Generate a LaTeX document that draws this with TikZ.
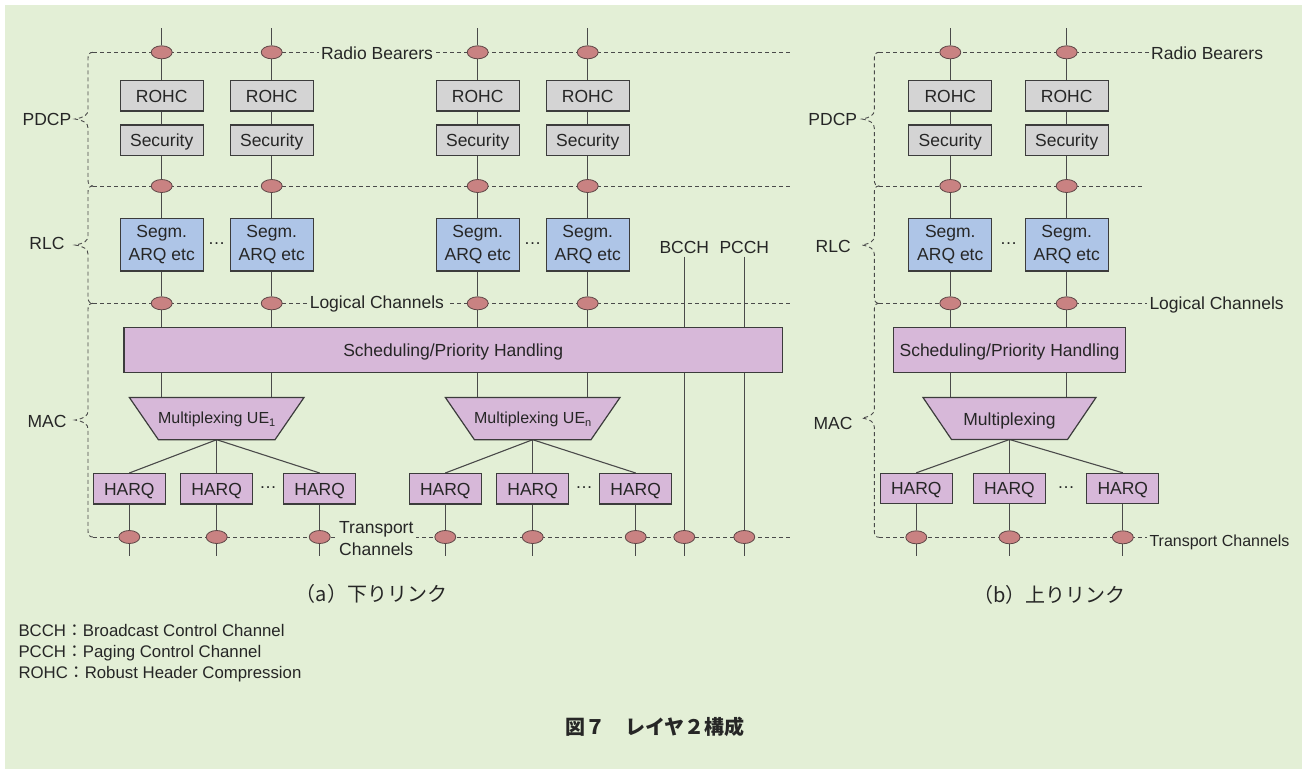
\documentclass[tikz,border=0pt]{standalone}
\usepackage{fontspec}
\setmainfont{Liberation Sans}
\newfontfamily\cjk{Noto Sans CJK JP}
\usetikzlibrary{shapes.geometric}
\definecolor{bgc}{HTML}{E3EFD6}
\definecolor{grayc}{HTML}{D4D4D4}
\definecolor{bluec}{HTML}{AEC5E7}
\definecolor{purc}{HTML}{D7B8D9}
\definecolor{sapc}{HTML}{C98282}
\definecolor{sapb}{HTML}{5E4646}
\definecolor{bordc}{HTML}{3C3C3C}
\definecolor{linec}{HTML}{4A4A4A}
\definecolor{txtc}{HTML}{262626}
\pgfdeclarelayer{bgl}
\pgfdeclarelayer{lnl}
\pgfsetlayers{bgl,lnl,main}
\newcommand\mybrace[5]{%
  \draw[dline] (#1+5,#2) .. controls (#1+1.5,#2) and (#1,#2+2) .. (#1,#2+6)
    -- (#1,#3-9) .. controls (#1,#3-4) and (#1-4,#3-1.5) .. (#5,#3)
    .. controls (#1-4,#3+1.5) and (#1,#3+4) .. (#1,#3+9)
    -- (#1,#4-6) .. controls (#1,#4-2) and (#1+1.5,#4) .. (#1+5,#4);}
\begin{document}
\begin{tikzpicture}[x=1pt,y=-1pt,
  txt/.style={text=txtc,font=\fontsize{17.5}{22.5}\selectfont},
  boxb/.style={txt,draw=bordc,line width=1.2pt,inner sep=0pt,minimum width=83pt},
  gbox/.style={boxb,fill=grayc,minimum height=30.3pt,text height=12.6pt,text depth=0pt},
  bbox/.style={boxb,fill=bluec,minimum height=52.7pt,align=center},
  pbox/.style={boxb,fill=purc,text height=12.6pt,text depth=0pt},
  harq/.style={pbox,minimum width=72pt,minimum height=30.4pt},
  sap/.style={ellipse,draw=sapb,fill=sapc,line width=0.8pt,minimum width=21pt,minimum height=13pt,inner sep=0pt},
  conn/.style={draw=linec,line width=1.1pt},
  dline/.style={draw=linec,line width=0.9pt,dash pattern=on 4pt off 3pt},
  lbl/.style={txt,fill=bgc,inner sep=2.5pt},
  pshape/.style={draw=bordc,line width=1.2pt,fill=purc,line join=miter},
  dots/.style={txt,inner sep=0pt}
]
\useasboundingbox (0,0) rectangle (1307,769);
\begin{pgfonlayer}{bgl}
  \fill[bgc] (5,5) rectangle (1302,769);
\end{pgfonlayer}

% ================= (a) downlink =================
\foreach \n/\x in {1/161.7,2/271.7,3/477.7,4/587.7}{
  \coordinate (at\n) at (\x,28);
  \node[sap] (arb\n) at (\x,52.3) {};
  \node[gbox] (arohc\n) at (\x,95.9) {ROHC};
  \node[gbox] (asec\n) at (\x,140.2) {Security};
  \node[sap] (apr\n) at (\x,186) {};
  \node[bbox] (aseg\n) at (\x,244.7) {Segm.\\ARQ etc};
  \node[sap] (alc\n) at (\x,303.3) {};
  \coordinate (amt\n) at (\x,397.5);
}
\node[dots] (adot1) at (216.7,243.3) {…};
\node[dots] (adot2) at (532.7,243.3) {…};

\node[pbox,minimum width=658.3pt,minimum height=45.4pt] (asch) at (453.2,350) {Scheduling/Priority Handling};

\draw[pshape] (129.4,397.5) -- (304,397.5) -- (275,439.7) -- (158.4,439.7) -- cycle;
\node[txt,font=\fontsize{16}{18}\selectfont,anchor=base] (amux1) at (216.7,423.5) {Multiplexing UE\raisebox{-2.5pt}{\fontsize{11}{11}\selectfont 1}};
\coordinate (amb1) at (216.7,439.7);
\draw[pshape] (445.4,397.5) -- (620,397.5) -- (591,439.7) -- (474.4,439.7) -- cycle;
\node[txt,font=\fontsize{16}{18}\selectfont,anchor=base] (amux2) at (532.7,423.5) {Multiplexing UE\raisebox{-2.5pt}{\fontsize{11}{11}\selectfont n}};
\coordinate (amb2) at (532.7,439.7);

\foreach \n/\x in {11/129.3,12/216.7,13/319.7,21/445.3,22/532.7,23/635.7}{
  \node[harq] (ah\n) at (\x,488.8) {HARQ};
  \node[sap] (atc\n) at (\x,537) {};
  \coordinate (ab\n) at (\x,556);
}
\node[dots] (adot3) at (268,488) {…};
\node[dots] (adot4) at (584,488) {…};

\node[txt,anchor=base] (bcch) at (684.3,253) {BCCH};
\node[sap] (bctc) at (684.3,537) {};
\coordinate (bcb) at (684.3,556);
\node[txt,anchor=base] (pcch) at (744.3,253) {PCCH};
\node[sap] (pctc) at (744.3,537) {};
\coordinate (pcb) at (744.3,556);

\node[lbl,anchor=base] (arbl) at (377,59.3) {Radio Bearers};
\node[lbl,anchor=base] (alcl) at (376.9,308.5) {Logical Channels};
\node[lbl,anchor=west,align=left,font=\fontsize{17.5}{21.7}\selectfont] (atcl) at (336.5,538.9) {Transport\\Channels};

\node[txt,anchor=base] (apdcp) at (47,125.3) {PDCP};
\node[txt,anchor=base] (arlc) at (47,249.6) {RLC};
\node[txt,anchor=base] (amac) at (47,427.6) {MAC};

\coordinate (aRBl) at (93,52.3);   \coordinate (aRBr) at (791,52.3);
\coordinate (aPRl) at (93,186);    \coordinate (aPRr) at (791,186);
\coordinate (aLCl) at (93,303.3);  \coordinate (aLCr) at (791,303.3);
\coordinate (aTCl) at (93,537);    \coordinate (aTCr) at (791,537);

% ================= (b) uplink =================
\foreach \n/\x in {1/950.3,2/1066.7}{
  \coordinate (bt\n) at (\x,28);
  \node[sap] (brb\n) at (\x,52.3) {};
  \node[gbox] (brohc\n) at (\x,95.9) {ROHC};
  \node[gbox] (bsec\n) at (\x,140.2) {Security};
  \node[sap] (bpr\n) at (\x,186) {};
  \node[bbox] (bseg\n) at (\x,244.7) {Segm.\\ARQ etc};
  \node[sap] (blc\n) at (\x,303.3) {};
  \coordinate (bmt\n) at (\x,397.5);
}
\node[dots] (bdot1) at (1008.5,243.3) {…};

\node[pbox,minimum width=232.4pt,minimum height=45pt] (bsch) at (1009.5,349.8) {Scheduling/Priority Handling};

\draw[pshape] (923,397.5) -- (1096,397.5) -- (1067.5,439.5) -- (951.5,439.5) -- cycle;
\node[txt,anchor=base] (bmux) at (1009.5,425) {Multiplexing};
\coordinate (bmb) at (1009.5,439.5);

\foreach \n/\x in {1/916.3,2/1009.5,3/1122.8}{
  \node[harq] (bh\n) at (\x,488.6) {HARQ};
  \node[sap] (btc\n) at (\x,537.3) {};
  \coordinate (bb\n) at (\x,556);
}
\node[dots] (bdot2) at (1066,488) {…};

\node[lbl,anchor=base west] (brbl) at (1148.5,59.3) {Radio Bearers};
\node[lbl,anchor=base west] (blcl) at (1146.8,309.6) {Logical Channels};
\node[lbl,anchor=base west,font=\fontsize{16}{18}\selectfont] (btcl) at (1146.8,546) {Transport Channels};

\node[txt,anchor=base] (bpdcp) at (832.8,125.6) {PDCP};
\node[txt,anchor=base] (brlc) at (833.2,252) {RLC};
\node[txt,anchor=base] (bmac) at (833,429) {MAC};

\coordinate (bRBl) at (879.3,52.3);   \coordinate (bRBr) at (1148.5,52.3);
\coordinate (bPRl) at (879.3,186);    \coordinate (bPRr) at (1145,186);
\coordinate (bLCl) at (879.3,303.3);  \coordinate (bLCr) at (1147,303.3);
\coordinate (bTCl) at (879.3,537.3);  \coordinate (bTCr) at (1147,537.3);

% ================= captions, legend, title =================
\node[txt,font=\cjk\fontsize{20}{24}\selectfont] (capa) at (371.5,594) {（a）下りリンク};
\node[txt,font=\cjk\fontsize{20}{24}\selectfont] (capb) at (1049.5,595) {（b）上りリンク};

\node[txt,font=\fontsize{16.8}{20}\selectfont,anchor=base west,inner sep=0pt] (lg1) at (18.3,636.7) {BCCH{\cjk ：}Broadcast Control Channel};
\node[txt,font=\fontsize{16.8}{20}\selectfont,anchor=base west,inner sep=0pt] (lg2) at (18.3,657.5) {PCCH{\cjk ：}Paging Control Channel};
\node[txt,font=\fontsize{16.8}{20}\selectfont,anchor=base west,inner sep=0pt] (lg3) at (18.3,678.3) {ROHC{\cjk ：}Robust Header Compression};

\node[txt,font=\cjk\bfseries\fontsize{20}{24}\selectfont] (title) at (655,727) {図７　レイヤ２構成};

% ================= connectors (under the nodes) =================
\begin{pgfonlayer}{lnl}
  \foreach \n in {1,...,4}{
    \draw[conn] (at\n) -- (arb\n) -- (arohc\n) -- (asec\n) -- (apr\n) -- (aseg\n) -- (alc\n) -- (alc\n |- asch.north);
    \draw[conn] (alc\n |- asch.south) -- (amt\n);
  }
  \foreach \g in {1,2}{
    \foreach \k in {1,2,3}{
      \draw[conn] (amb\g) -- (ah\g\k.north);
      \draw[conn] (ah\g\k) -- (atc\g\k) -- (ab\g\k);
    }
  }
  \draw[conn] (bcch.south) -- (bctc) -- (bcb);
  \draw[conn] (pcch.south) -- (pctc) -- (pcb);

  \foreach \n in {1,2}{
    \draw[conn] (bt\n) -- (brb\n) -- (brohc\n) -- (bsec\n) -- (bpr\n) -- (bseg\n) -- (blc\n) -- (blc\n |- bsch.north);
    \draw[conn] (blc\n |- bsch.south) -- (bmt\n);
  }
  \foreach \k in {1,2,3}{
    \draw[conn] (bmb) -- (bh\k.north);
    \draw[conn] (bh\k) -- (btc\k) -- (bb\k);
  }

  \draw[dline] (aRBl) -- (aRBr);
  \draw[dline] (aPRl) -- (aPRr);
  \draw[dline] (aLCl) -- (aLCr);
  \draw[dline] (aTCl) -- (aTCr);
  \draw[dline] (bRBl) -- (bRBr);
  \draw[dline] (bPRl) -- (bPRr);
  \draw[dline] (bLCl) -- (bLCr);
  \draw[dline] (bTCl) -- (bTCr);

  \mybrace{88}{52.3}{119}{186}{75}
  \mybrace{88}{186}{245}{303.3}{75}
  \mybrace{88}{303.3}{420}{537}{75}
  \mybrace{874.3}{52.3}{119}{186}{862}
  \mybrace{874.3}{186}{245}{303.3}{862}
  \mybrace{874.3}{303.3}{418}{537.3}{862}
\end{pgfonlayer}
\end{tikzpicture}
\end{document}
